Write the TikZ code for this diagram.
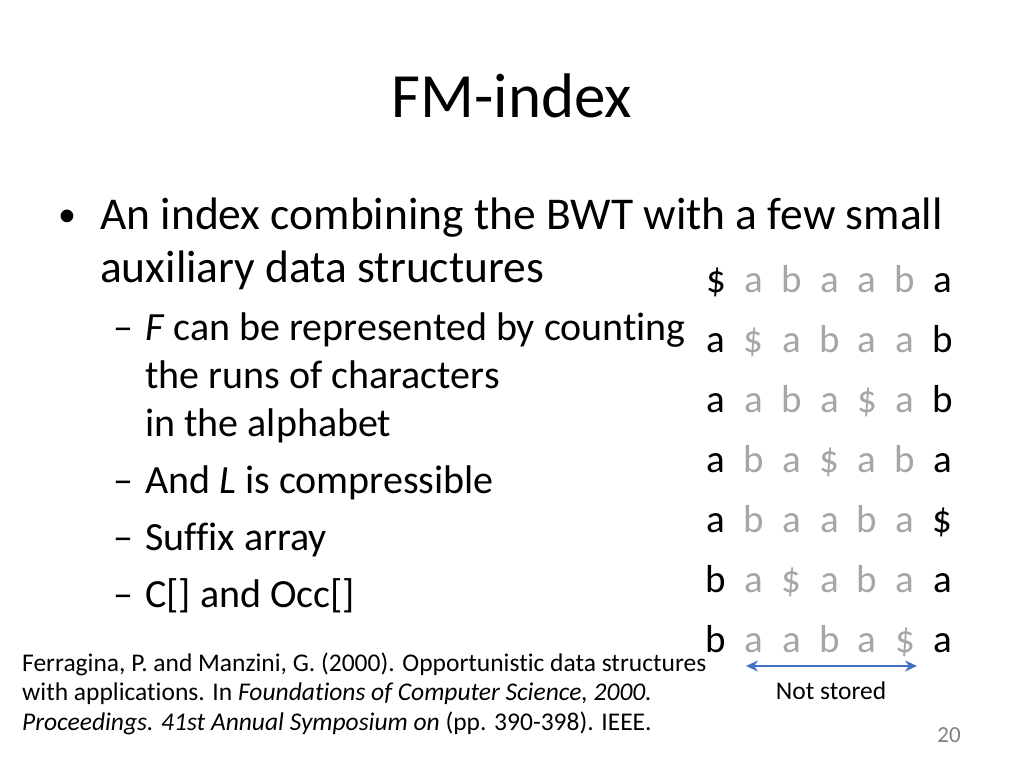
\documentclass[tikz,border=0pt]{standalone}
\usepackage{fontspec}
\setmainfont{Carlito}[Ligatures=NoCommon]
\usetikzlibrary{arrows.meta}
\definecolor{lg}{RGB}{166,166,166}
\definecolor{ab}{RGB}{68,114,196}
\begin{document}
\begin{tikzpicture}[x=1pt,y=-1pt,
  txt/.style={anchor=base west,inner sep=0pt},
  big/.style={txt,font=\fontsize{45.5}{50}\selectfont},
  sub/.style={txt,font=\fontsize{40}{44}\selectfont},
  ref/.style={txt,font=\fontsize{25.5}{28}\selectfont},
  mb/.style={anchor=base,inner sep=0pt,font=\fontsize{39}{44}\selectfont},
  mg/.style={mb,text=lg}]
\useasboundingbox (0,0) rectangle (1024,768);
\node[anchor=base,inner sep=0pt,font=\fontsize{63}{70}\selectfont] (title) at (512,117) {FM-index};
\node[big,font=\fontsize{36}{40}\selectfont] (b1) at (58,226) {\textbullet};
\node[big] (l1) at (100,229) {An index combining the BWT with a few small};
\node[big] (l2) at (100,282) {auxiliary data structures};
\foreach \y/\t [count=\i] in {340/{\textit{F} can be represented by counting},493/{And \textit{L} is compressible},550/{Suffix array},607/{C[] and Occ[]}}{
  \node[sub] (d\i) at (113,\y) {\textendash};
  \node[sub] (s\i) at (145,\y) {\t};
}
\node[sub] (s5) at (145,388) {the runs of characters};
\node[sub] (s6) at (145,436) {in the alphabet};
\foreach \r [count=\j] in {{\$,a,b,a,a,b,a},{a,\$,a,b,a,a,b},{a,a,b,a,\$,a,b},{a,b,a,\$,a,b,a},{a,b,a,a,b,a,\$},{b,a,\$,a,b,a,a},{b,a,a,b,a,\$,a}}{
  \foreach \c [count=\k] in \r {
    \pgfmathsetmacro{\xx}{716+(\k-1)*37.8}
    \pgfmathsetmacro{\yy}{292+(\j-1)*60}
    \ifnum\k=1 \node[mb] (m\j\k) at (\xx,\yy) {\c};
    \else\ifnum\k=7 \node[mb] (m\j\k) at (\xx,\yy) {\c};
    \else \node[mg] (m\j\k) at (\xx,\yy) {\c};\fi\fi
  }
}
\coordinate (aL) at (746,666);
\coordinate (aR) at (917,666);
\draw[ab,line width=2.2pt,{Stealth[length=12pt,width=11pt]}-{Stealth[length=12pt,width=11pt]}] (aL) -- (aR);
\node[anchor=base,inner sep=0pt,font=\fontsize{25.5}{28}\selectfont] (ns) at (831,699) {Not stored};
\node[ref] (r1) at (22,671) {Ferragina, P. and Manzini, G. (2000). Opportunistic data structures};
\node[ref] (r2) at (22,700) {with applications. In \textit{Foundations of Computer Science, 2000.}};
\node[ref] (r3) at (22,730) {\textit{Proceedings. 41st Annual Symposium on} (pp. 390-398). IEEE.};
\node[anchor=base,inner sep=0pt,text=gray,font=\fontsize{23}{26}\selectfont] (pg) at (949,742) {20};
\end{tikzpicture}
\end{document}
